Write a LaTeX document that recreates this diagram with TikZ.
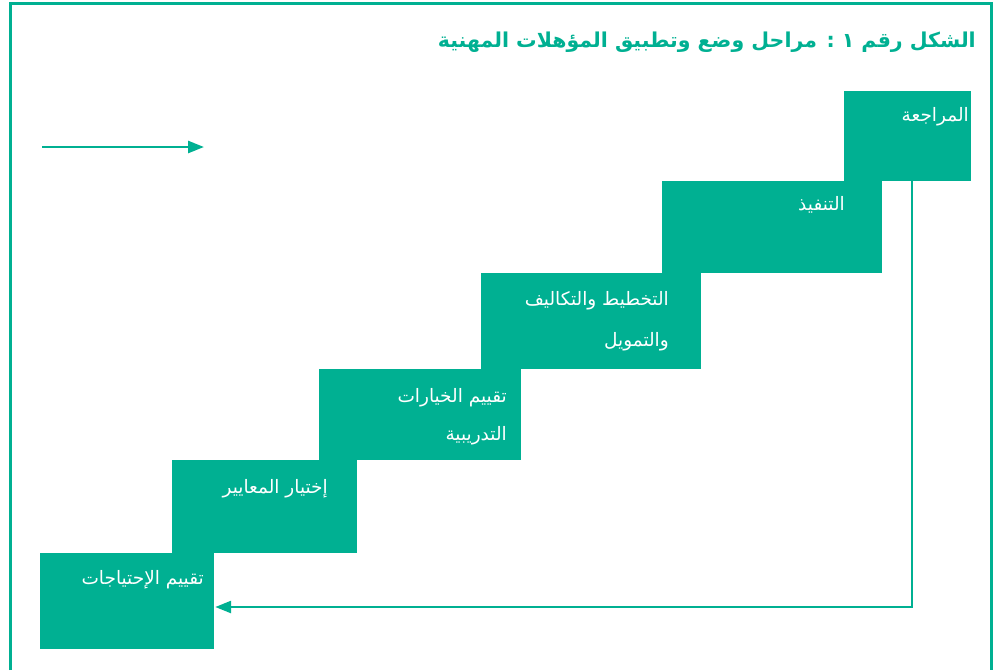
\documentclass[tikz,border=0pt]{standalone}
\usepackage{fontspec}
\usetikzlibrary{arrows.meta}
\TeXXeTstate=1
\newfontfamily\arabicfont[Script=Arabic]{DejaVu Sans}
\definecolor{teal}{RGB}{0,176,146}
\tikzset{
  stepbox/.style={fill=teal, draw=none, inner sep=0pt},
  steptext/.style={text=white, font=\arabicfont\fontsize{18.5}{20}\selectfont, inner sep=0pt, align=right},
  link/.style={draw=teal, line width=2.6pt, -{Triangle[length=16pt,width=12pt]}},
}
\begin{document}
\begin{tikzpicture}[x=1pt,y=-1pt]
\useasboundingbox (0,0) rectangle (995,670);
% frame
\draw[teal, line width=2.8pt] (10.5,670) -- (10.5,3.5) -- (991.5,3.5) -- (991.5,670);
% title
\node[anchor=east, text=teal, inner sep=0pt, font=\arabicfont\bfseries\fontsize{20.5}{24}\selectfont] (title) at (976,42) {\beginR الشكل رقم ١ : مراحل وضع وتطبيق المؤهلات المهنية\endR};
% steps
\node[stepbox, minimum width=127pt, minimum height=90pt] (b1) at (907.5,136) {};
\node[stepbox, minimum width=220pt, minimum height=92pt] (b2) at (772,227) {};
\node[stepbox, minimum width=220pt, minimum height=96pt] (b3) at (591,321) {};
\node[stepbox, minimum width=202pt, minimum height=91pt] (b4) at (420,414.5) {};
\node[stepbox, minimum width=185pt, minimum height=93pt] (b5) at (264.5,506.5) {};
\node[stepbox, minimum width=174pt, minimum height=96pt] (b6) at (127,601) {};
% texts
\node[steptext, anchor=east] (t1) at (969,117) {\beginR المراجعة\endR};
\node[steptext, anchor=east] (t2) at (845,205) {\beginR التنفيذ\endR};
\node[steptext, anchor=east] (t3) at (669,321) {\beginR التخطيط والتكاليف\endR\\[21pt]\beginR والتمويل\endR};
\node[steptext, anchor=east] (t4) at (507,417) {\beginR تقييم الخيارات\endR\\[18pt]\beginR التدريبية\endR};
\node[steptext, anchor=east] (t5) at (328,489) {\beginR إختيار المعايير\endR};
\node[steptext, anchor=east] (t6) at (204,580) {\beginR تقييم الإحتياجات\endR};
% arrows
\coordinate (a0) at (42,147);
\coordinate (a1) at (204,147);
\draw[link] (a0) -- (a1);
\coordinate (turn) at (912,607);
\draw[link, shorten >=1pt] (b1.south -| turn) -- (turn) -- (turn -| b6.east);
\end{tikzpicture}
\end{document}
